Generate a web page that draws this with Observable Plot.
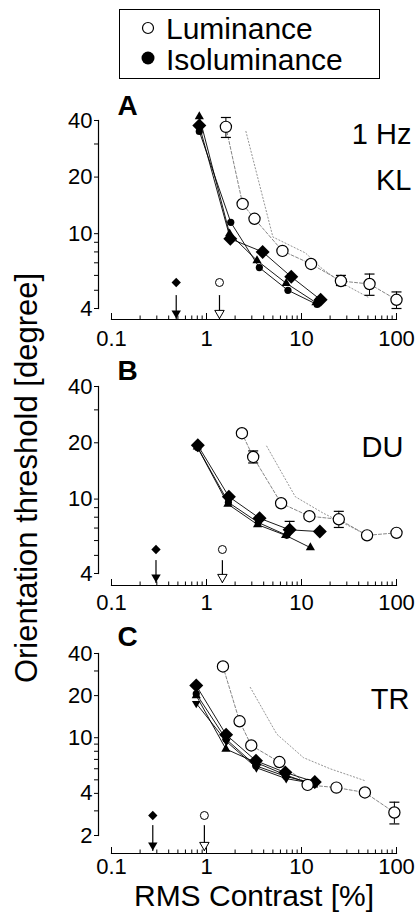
<!DOCTYPE html>
<html>
<head>
<meta charset="utf-8">
<script src="https://cdn.jsdelivr.net/npm/d3@7"></script>
<script src="https://cdn.jsdelivr.net/npm/@observablehq/plot@0.6"></script>
<style>
  html, body { margin: 0; padding: 0; background: #fff; overflow: hidden; }
  #root { position: relative; width: 419px; height: 916px; font-family: "Liberation Sans", Arial, Helvetica, sans-serif; color: #000; }
  .panel { position: absolute; left: 0; }
  #legend { position: absolute; left: 119px; top: 9px; width: 259px; height: 68px; border: 1.3px solid #000; }
  #legend .lab { position: absolute; left: 46px; font-size: 30px; line-height: 30px; white-space: nowrap; }
  #legend svg { position: absolute; left: 20px; }
  #ytitle { position: absolute; left: -273px; top: 460px; width: 600px; height: 36px; line-height: 36px; text-align: center; font-size: 31px; transform: rotate(-90deg); white-space: nowrap; }
  #xtitle { position: absolute; left: 54px; top: 881px; width: 400px; text-align: center; font-size: 30px; line-height: 30px; white-space: nowrap; }
</style>
</head>
<body>
<div id="root">
  <div id="legend">
    <svg width="16" height="16" style="top:10px"><circle cx="8" cy="8" r="5.5" fill="#fff" stroke="#000" stroke-width="1.2"/></svg>
    <span class="lab" style="top:4px">Luminance</span>
    <svg width="16" height="16" style="top:40px"><circle cx="8" cy="8" r="6.5" fill="#000"/></svg>
    <span class="lab" style="top:35px">Isoluminance</span>
  </div>
  <div id="ytitle">Orientation threshold [degree]</div>
  <div id="pA" class="panel" style="top:85px"></div>
  <div id="pB" class="panel" style="top:350px"></div>
  <div id="pC" class="panel" style="top:615px"></div>
  <div id="xtitle">RMS Contrast [%]</div>
</div>
<script>
// ---------- axis ticks ----------
const xMinorTicks = [0.2,0.3,0.4,0.5,0.6,0.7,0.8,0.9,2,3,4,5,6,7,8,9,20,30,40,50,60,70,80,90];
const xMajorTicks = [0.1, 1, 10, 100];
const yTicksAB = [4,5,6,7,8,9,10,20,30,40];
const yLabelsAB = [4,10,20,40];
const yTicksC = [2,3,4,5,6,7,8,9,10,20,30,40];
const yLabelsC = [2,4,10,20,40];

// ---------- Panel A : KL, 1 Hz ----------
const lumContrastA = [1.6, 2.4, 3.2, 6.3, 12.6, 26, 52, 100];
const lumThreshA   = [37, 14.4, 12.0, 8.1, 6.9, 5.6, 5.4, 4.45];
const lumErrLoA    = [32.5, null, null, null, null, 5.3, 4.7, 4.0];
const lumErrHiA    = [41.5, null, null, null, null, 6.0, 6.1, 4.9];
const isoDiamondCA = [0.84, 1.78, 3.9, 7.8, 15.9];
const isoDiamondTA = [37.6, 9.4, 8.0, 5.9, 4.45];
const isoCircleCA  = [0.84, 1.8, 3.6, 7.2, 14.6];
const isoCircleTA  = [35, 11.5, 6.6, 5.0, 4.2];
const isoTriCA     = [0.84, 1.75, 3.4, 6.9, 14.2];
const isoTriTA     = [42, 10.0, 7.2, 5.45, 4.3];
const shiftCA      = [2.6, 5.0, 11, 16, 26, 50];
const shiftTA      = [35, 9.6, 7.9, 6.6, 5.5, 4.6];
const detIsoA = [0.48], detLumA = [1.37];

// ---------- Panel B : DU ----------
const lumContrastB = [2.36, 3.1, 6.1, 12.1, 24.7, 49, 100];
const lumThreshB   = [22.5, 16.8, 9.5, 8.1, 7.8, 6.4, 6.6];
const lumErrLoB    = [null, 15.6, null, null, 7.05, null, null];
const lumErrHiB    = [null, 18.1, null, null, 8.6, null, null];
const isoDiamondCB = [0.81, 1.72, 3.62, 7.5, 15.6];
const isoDiamondTB = [19.4, 10.3, 7.9, 6.85, 6.7];
const isoCircleCB  = [0.81, 1.7, 3.5, 7.0];
const isoCircleTB  = [18.8, 9.6, 7.5, 6.4];
const isoTriCB     = [0.8, 1.68, 3.45, 6.8, 12.4];
const isoTriTB     = [19, 9.4, 7.3, 6.4, 5.5];
const isoErrCB = [7.5], isoErrLoB = [6.85], isoErrHiB = [7.6];
const shiftCB      = [4.3, 8.6, 17, 35, 49];
const shiftTB      = [19.2, 10.3, 8.4, 7.0, 6.4];
const detIsoB = [0.294], detLumB = [1.47];

// ---------- Panel C : TR ----------
const lumContrastC = [1.49, 2.23, 2.96, 5.85, 11.6, 23.3, 46.5, 95];
const lumThreshC   = [32.3, 13.1, 8.8, 6.7, 4.6, 4.4, 4.06, 2.92];
const lumErrLoC    = [null, null, null, null, null, null, null, 2.42];
const lumErrHiC    = [null, null, null, null, null, null, null, 3.46];
const isoDiamondCC = [0.78, 1.61, 3.32, 6.76, 13.8];
const isoDiamondTC = [23.6, 10.5, 6.84, 5.64, 4.83];
const isoCircleCC  = [0.78, 1.6, 3.3, 6.8, 13.5];
const isoCircleTC  = [20.6, 9.8, 6.3, 5.3, 4.7];
const isoTriCC     = [0.78, 1.6, 3.4, 6.9, 13.4];
const isoTriTC     = [20, 8.3, 6.6, 5.4, 4.6];
const isoInvCC     = [0.78, 1.62, 3.35, 6.9, 13.6];
const isoInvTC     = [17.6, 9.4, 6.1, 5.1, 4.7];
const shiftCC      = [2.89, 5.5, 10.5, 20, 47];
const shiftTC      = [22.9, 10.6, 7.2, 6.0, 4.92];
const detIsoC = [0.272], detLumC = [0.95];

// ---------- helpers ----------
const FONT = "'Liberation Sans', Arial, Helvetica, sans-serif";
const zip = (cs, ts) => cs.map((c, i) => ({c, t: ts[i]}));
const errs = (cs, lo, hi) => cs.map((c, i) => ({c, lo: lo[i], hi: hi[i]})).filter(d => d.lo != null);
const capSymbol = {draw(ctx) { ctx.moveTo(-5, 0); ctx.lineTo(5, 0); }};
const lineShape = {draw(ctx, l) { ctx.moveTo(0, 0); ctx.lineTo(0, -l); }};

function panel(cfg) {
  const lum = zip(cfg.lumC, cfg.lumT);
  const lumE = errs(cfg.lumC, cfg.lumLo, cfg.lumHi);
  const caps = lumE.flatMap(d => [{c: d.c, t: d.lo}, {c: d.c, t: d.hi}]).concat(
    (cfg.isoErr || []).flatMap(d => [{c: d.c, t: d.hi}]));
  const shift = zip(cfg.shiftC, cfg.shiftT);
  const iso = cfg.iso.map(s => ({...s, data: zip(s.c, s.t)}));
  const det = cfg.det;
  return Plot.plot({
    width: 419,
    height: cfg.height,
    marginLeft: 98,
    marginRight: 23,
    marginTop: cfg.marginTop,
    marginBottom: cfg.marginBottom,
    style: {fontFamily: FONT, fontSize: "22px", background: "transparent", overflow: "visible", color: "#000"},
    x: {type: "log", domain: [0.1, 100], insetLeft: 13, axis: null},
    y: {type: "log", domain: cfg.yDomain, axis: null},
    marks: [
      Plot.frame({anchor: "left", strokeWidth: 1.2}),
      Plot.frame({anchor: "bottom", insetLeft: 13, insetBottom: -cfg.gap, strokeWidth: 1.2}),
      Plot.axisY({anchor: "left", ticks: cfg.yTicks, tickSize: 4, tickPadding: 2,
        tickFormat: d => cfg.yLabels.includes(d) ? String(d) : "", fontSize: 22, label: null}),
      Plot.axisX({anchor: "bottom", ticks: xMinorTicks, tickSize: -3.5, dy: cfg.gap,
        tickFormat: () => "", label: null}),
      Plot.axisX({anchor: "bottom", ticks: xMajorTicks, tickSize: -6, tickPadding: cfg.labelPad, dy: cfg.gap,
        tickFormat: d => String(d), fontSize: 22, label: null}),
      // shifted (predicted) curve
      Plot.line(shift, {x: "c", y: "t", stroke: "#888", strokeWidth: 0.9, strokeDasharray: "1.2,2.2"}),
      // luminance connection
      Plot.line(lum, {x: "c", y: "t", stroke: "#777", strokeWidth: 0.9, strokeDasharray: "3,2"}),
      // isoluminance connections
      ...iso.map(s => Plot.line(s.data, {x: "c", y: "t", stroke: "#000", strokeWidth: 0.9})),
      // error bars
      Plot.ruleX(lumE, {x: "c", y1: "lo", y2: "hi", stroke: "#000", strokeWidth: 1}),
      Plot.ruleX(cfg.isoErr || [], {x: "c", y1: "lo", y2: "hi", stroke: "#000", strokeWidth: 1}),
      Plot.dot(caps, {x: "c", y: "t", symbol: capSymbol, stroke: "#000", strokeWidth: 1.2, fill: "none"}),
      // isoluminance markers
      ...iso.map(s => Plot.dot(s.data, {x: "c", y: "t", symbol: s.symbol, r: s.r, rotate: s.rotate || 0, fill: "#000", stroke: "none"})),
      // luminance markers
      Plot.dot(lum, {x: "c", y: "t", r: 5.6, fill: "#fff", stroke: "#000", strokeWidth: 1.2}),
      // detection thresholds
      Plot.dot(det.iso, {x: d => d, frameAnchor: "bottom", dy: det.markDy, symbol: "diamond2", r: 4.2, fill: "#000"}),
      Plot.dot(det.lum, {x: d => d, frameAnchor: "bottom", dy: det.markDy, r: 4, fill: "#fff", stroke: "#000", strokeWidth: 1}),
      Plot.vector(det.iso.concat(det.lum), {x: d => d, frameAnchor: "bottom", dy: det.tipDy, length: det.len, rotate: 0, anchor: "start", shape: lineShape, stroke: "#000", strokeWidth: 1.2}),
      Plot.dot(det.iso, {x: d => d, frameAnchor: "bottom", dy: det.tipDy - 5.4, symbol: "triangle", rotate: 180, r: 3.5, fill: "#000"}),
      Plot.dot(det.lum, {x: d => d, frameAnchor: "bottom", dy: det.tipDy - 5.4, symbol: "triangle", rotate: 180, r: 3.5, fill: "#fff", stroke: "#000", strokeWidth: 1}),
      // panel letter and labels
      Plot.text([cfg.letter], {frameAnchor: "top-left", dx: 19, dy: cfg.letterDy, text: d => d, fontWeight: "bold", fontSize: 28, textAnchor: "start", lineAnchor: "middle"}),
      ...cfg.tags.map(tg => Plot.text([tg.text], {frameAnchor: "top-right", dx: tg.dx, dy: tg.dy, text: d => d, fontSize: 29, textAnchor: "end", lineAnchor: "middle"}))
    ]
  });
}

const A = panel({
  height: 275, marginTop: 35, marginBottom: 52, gap: 11, labelPad: 17,
  yDomain: [4, 40], yTicks: yTicksAB, yLabels: yLabelsAB,
  lumC: lumContrastA, lumT: lumThreshA, lumLo: lumErrLoA, lumHi: lumErrHiA,
  shiftC: shiftCA, shiftT: shiftTA,
  iso: [
    {c: isoTriCA, t: isoTriTA, symbol: "triangle", r: 3.4},
    {c: isoCircleCA, t: isoCircleTA, symbol: "circle", r: 3.6},
    {c: isoDiamondCA, t: isoDiamondTA, symbol: "diamond2", r: 6.3}
  ],
  det: {iso: detIsoA, lum: detLumA, markDy: -26, tipDy: 10, len: 23},
  letter: "A", letterDy: -14,
  tags: [{text: "1 Hz", dx: 15, dy: 14}, {text: "KL", dx: 15, dy: 60}]
});
const B = panel({
  height: 275, marginTop: 36, marginBottom: 52, gap: 12, labelPad: 15,
  yDomain: [4, 40], yTicks: yTicksAB, yLabels: yLabelsAB,
  lumC: lumContrastB, lumT: lumThreshB, lumLo: lumErrLoB, lumHi: lumErrHiB,
  shiftC: shiftCB, shiftT: shiftTB,
  iso: [
    {c: isoTriCB, t: isoTriTB, symbol: "triangle", r: 3.4},
    {c: isoCircleCB, t: isoCircleTB, symbol: "circle", r: 3.6},
    {c: isoDiamondCB, t: isoDiamondTB, symbol: "diamond2", r: 6.3}
  ],
  isoErr: isoErrCB.map((c, i) => ({c, lo: isoErrLoB[i], hi: isoErrHiB[i]})),
  det: {iso: detIsoB, lum: detLumB, markDy: -24, tipDy: 9, len: 22},
  letter: "B", letterDy: -15,
  tags: [{text: "DU", dx: 7, dy: 61}]
});
const C = panel({
  height: 270, marginTop: 38, marginBottom: 50, gap: 18, labelPad: 11,
  yDomain: [2, 40], yTicks: yTicksC, yLabels: yLabelsC,
  lumC: lumContrastC, lumT: lumThreshC, lumLo: lumErrLoC, lumHi: lumErrHiC,
  shiftC: shiftCC, shiftT: shiftTC,
  iso: [
    {c: isoInvCC, t: isoInvTC, symbol: "triangle", r: 3.2, rotate: 180},
    {c: isoTriCC, t: isoTriTC, symbol: "triangle", r: 3.4},
    {c: isoCircleCC, t: isoCircleTC, symbol: "circle", r: 3.6},
    {c: isoDiamondCC, t: isoDiamondTC, symbol: "diamond2", r: 6.3}
  ],
  det: {iso: detIsoC, lum: detLumC, markDy: -20, tipDy: 15, len: 25},
  letter: "C", letterDy: -16,
  tags: [{text: "TR", dx: 13, dy: 46}]
});
document.getElementById("pA").appendChild(A);
document.getElementById("pB").appendChild(B);
document.getElementById("pC").appendChild(C);
</script>
</body>
</html>
